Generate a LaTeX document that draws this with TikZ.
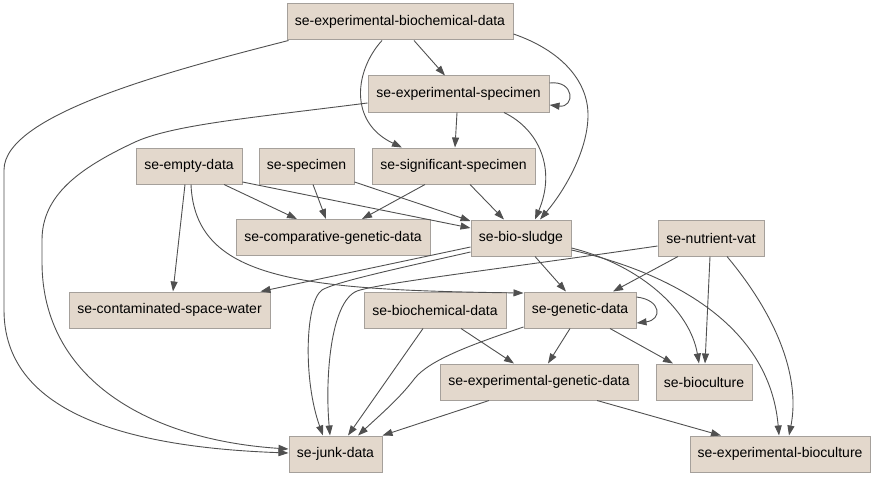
\documentclass[tikz,border=0pt]{standalone}
\usepackage{fontspec}
\setmainfont{Liberation Sans}
\usetikzlibrary{arrows.meta,calc}
\definecolor{nodefill}{RGB}{227,216,204}
\definecolor{nodeline}{RGB}{165,160,155}
\definecolor{edgecol}{RGB}{80,80,80}
\begin{document}
\begin{tikzpicture}[x=1pt,y=-1pt,
  box/.style={draw=nodeline,fill=nodefill,line width=1pt,minimum height=36pt,inner sep=0pt,font=\fontsize{14pt}{16pt}\selectfont},
  edge/.style={draw=edgecol,line width=0.9pt,-{Triangle[length=10pt,width=7pt]}}]
\useasboundingbox (0,0) rectangle (874,476);
\node[box,minimum width=226pt] (ebd) at (400,22) {se-experimental-biochemical-data};
\node[box,minimum width=181pt] (esp) at (458.5,94) {se-experimental-specimen};
\node[box,minimum width=106pt] (emp) at (189,166) {se-empty-data};
\node[box,minimum width=95pt] (spc) at (306.5,166) {se-specimen};
\node[box,minimum width=163pt] (sig) at (453.5,166) {se-significant-specimen};
\node[box,minimum width=194pt] (cgd) at (333,237.5) {se-comparative-genetic-data};
\node[box,minimum width=100pt] (bsl) at (521,238) {se-bio-sludge};
\node[box,minimum width=106pt] (nvat) at (711,238) {se-nutrient-vat};
\node[box,minimum width=201pt] (csw) at (169.5,310) {se-contaminated-space-water};
\node[box,minimum width=142pt] (bcd) at (435,310) {se-biochemical-data};
\node[box,minimum width=112pt] (gen) at (580,310) {se-genetic-data};
\node[box,minimum width=198pt] (egd) at (539,382) {se-experimental-genetic-data};
\node[box,minimum width=96pt] (bcu) at (704,382) {se-bioculture};
\node[box,minimum width=93pt] (jnk) at (335.5,454) {se-junk-data};
\node[box,minimum width=180pt] (ebc) at (780,454) {se-experimental-bioculture};

% from ebd
\path[edge] ($(ebd.south)+(14,0)$) -- ($(esp.north)+(-13.5,0)$);
\path[edge] ($(ebd.south)+(-18,0)$) .. controls (355,70) and (348,122) .. ($(sig.north)+(-51.5,0)$);
\path[edge] ($(ebd.east)+(0,12)$) .. controls (560,50) and (588,80) .. (588,115) .. controls (588,150) and (565,190) .. ($(bsl.north)+(19,0)$);
\path[edge] ($(ebd.south west)+(2,0)$) .. controls (165,72) and (4,115) .. (4,170) -- (4,310) .. controls (4,410) and (120,447) .. ($(jnk.west)+(0,-1)$);
% from esp
\path[edge] ($(esp.east)+(0,-11)$) .. controls (575,80) and (575,108) .. ($(esp.east)+(0,11)$);
\path[edge] ($(esp.south)+(-1.5,0)$) -- ($(sig.north)+(1.5,0)$);
\path[edge] ($(esp.south)+(45.5,0)$) .. controls (540,130) and (556,170) .. ($(bsl.north)+(14,0)$);
\path[edge] ($(esp.west)+(0,9)$) .. controls (250,118) and (170,125) .. (133,143) .. controls (80,168) and (42,195) .. (42,240) -- (42,262) .. controls (42,380) and (150,440) .. ($(jnk.west)+(0,-5)$);
% from emp
\path[edge] ($(emp.south)+(35,0)$) -- ($(cgd.north)+(-36,0)$);
\path[edge] ($(emp.east)+(0,16)$) -- ($(bsl.west)+(0,-10)$);
\path[edge] ($(emp.south)+(-4,0)$) -- ($(csw.north)+(3.5,0)$);
\path[edge] ($(emp.south)+(2,0)$) .. controls (195,280) and (300,290) .. ($(gen.west)+(0,-17)$);
% from spc
\path[edge] ($(spc.south)+(6.5,0)$) -- ($(cgd.north)+(-7,0)$);
\path[edge] ($(spc.east)+(0,16)$) -- ($(bsl.west)+(0,-17)$);
% from sig
\path[edge] ($(sig.south)+(-28.5,0)$) -- ($(cgd.north)+(29,0)$);
\path[edge] ($(sig.south)+(16.5,0)$) -- ($(bsl.north)+(-17,0)$);
% from bsl
\path[edge] ($(bsl.west)+(0,9)$) -- ($(csw.north east)+(-10,0)$);
\path[edge] ($(bsl.west)+(0,14)$) .. controls (400,268) and (335,282) .. (322,290) .. controls (305,302) and (303,380) .. ($(jnk.north)+(-12.5,0)$);
\path[edge] ($(bsl.south)+(14,0)$) -- ($(gen.north)+(-14,0)$);
\path[edge] ($(bsl.east)+(0,10)$) .. controls (640,265) and (690,310) .. ($(bcu.north)+(-5,0)$);
\path[edge] ($(bsl.east)+(0,12)$) .. controls (680,275) and (770,330) .. ($(ebc.north)+(-1,0)$);
% from nvat
\path[edge] ($(nvat.south)+(-33,0)$) -- ($(gen.north)+(33,0)$);
\path[edge] ($(nvat.south)+(-1,0)$) -- ($(bcu.north)+(1,0)$);
\path[edge] ($(nvat.south)+(16,0)$) .. controls (780,320) and (800,380) .. ($(ebc.north)+(9,0)$);
\path[edge] ($(nvat.west)+(0,8)$) .. controls (500,269) and (380,283) .. (357,291) .. controls (330,302) and (325,380) .. ($(jnk.north)+(-5.5,0)$);
% from gen
\path[edge] ($(gen.east)+(0,-13)$) .. controls (662,300) and (662,320) .. ($(gen.east)+(0,13)$);
\path[edge] ($(gen.south)+(-10,0)$) -- ($(egd.north)+(9,0)$);
\path[edge] ($(gen.south)+(30,0)$) -- ($(bcu.north)+(-31,0)$);
\path[edge] ($(gen.west)+(0,17)$) .. controls (470,345) and (430,360) .. (415,378) .. controls (400,398) and (380,415) .. ($(jnk.north)+(22.5,0)$);
% from bcd
\path[edge] ($(bcd.south)+(26,0)$) -- ($(egd.north)+(-25,0)$);
\path[edge] ($(bcd.south)+(-12,0)$) -- ($(jnk.north)+(12.5,0)$);
% from egd
\path[edge] ($(egd.south)+(-50,0)$) -- (jnk.north east);
\path[edge] ($(egd.south)+(58,0)$) -- ($(ebc.north)+(-59,0)$);
\end{tikzpicture}
\end{document}
